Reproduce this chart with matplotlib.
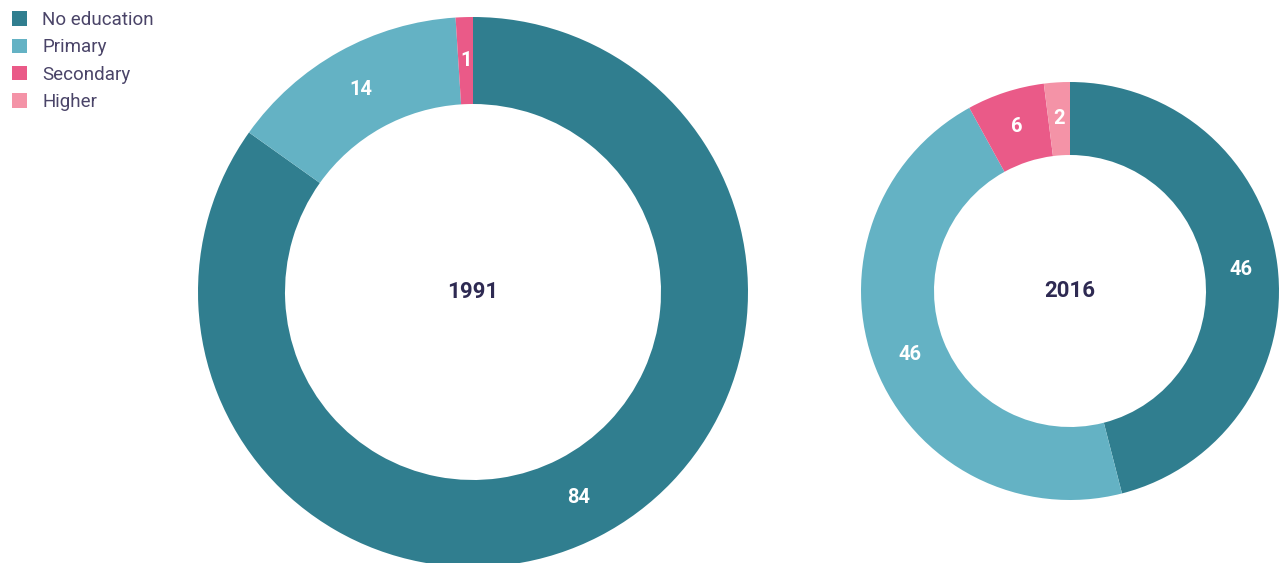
import numpy as np
import matplotlib
matplotlib.use("Agg")
import matplotlib.pyplot as plt
from matplotlib.patches import Patch

categories = ["No education", "Primary", "Secondary", "Higher"]
years = ["1991", "2016"]
values_1991 = [84, 14, 1, 0]
values_2016 = [46, 46, 6, 2]
colors = ["#307E8F", "#64B2C4", "#EA5A88", "#F493A7"]

plt.rcParams["font.family"] = ["Roboto", "DejaVu Sans"]

W, H = 1283, 563
fig = plt.figure(figsize=(W / 100, H / 100), dpi=100)
ax = fig.add_axes([0, 0, 1, 1])

donuts = [
    # (values, year, center_px, outer_radius, ring_width)
    (values_1991, years[0], (473, 292), 275, 87),
    (values_2016, years[1], (1070, 291), 209, 73),
]

for vals, year, (cx, cy), r, w in donuts:
    center = (cx, H - cy)
    wedges, _ = ax.pie(vals, colors=colors, startangle=90, counterclock=False,
                       radius=r, center=center, frame=True,
                       wedgeprops=dict(width=w, linewidth=0, antialiased=True))
    for wd, v in zip(wedges, vals):
        if v <= 0:
            continue
        mid = np.deg2rad((wd.theta1 + wd.theta2) / 2)
        rr = r - w / 2
        ax.text(center[0] + rr * np.cos(mid), center[1] + rr * np.sin(mid), str(v),
                ha="center", va="center", color="white", fontsize=14.5,
                fontweight="bold")
    ax.text(center[0], center[1], year, ha="center", va="center",
            color="#2E2A52", fontsize=16, fontweight="bold")

ax.set_xlim(0, W)
ax.set_ylim(0, H)
ax.set_aspect("equal")
ax.axis("off")

handles = [Patch(facecolor=c, edgecolor="none") for c in colors]
leg = ax.legend(handles, categories, loc="upper left",
                bbox_to_anchor=(3 / W, 1.0 - 2 / H),
                frameon=False, fontsize=13.5, handlelength=0.8, handleheight=0.8,
                handletextpad=0.82, labelspacing=0.5, borderaxespad=0.0,
                borderpad=0.48)
for t in leg.get_texts():
    t.set_color("#4A4468")

fig.savefig("out.png", dpi=100)
